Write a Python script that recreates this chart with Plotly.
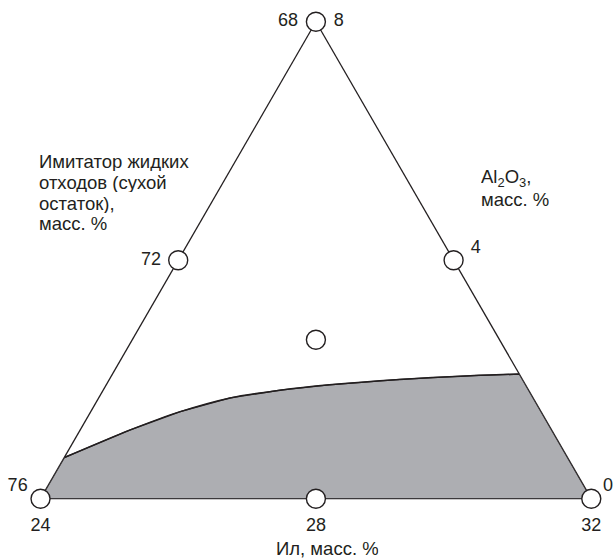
import plotly.graph_objects as go

FONT = "Liberation Sans, Arial, sans-serif"
INK = "#231f20"
GRAY = "#adaeb2"

# Marked compositions, mass %: top, left-mid, bottom-left, right-mid, bottom-mid, bottom-right, centre
pt_al2o3 = [8, 4, 0, 4, 0, 0, 2.667]
pt_waste = [68, 72, 76, 68, 72, 68, 70.667]
pt_silt = [24, 24, 24, 28, 28, 32, 26.667]

# Tick labels of the waste-simulant axis (left side)
waste_tick_al2o3 = [8, 4, 0]
waste_tick_waste = [68, 72, 76]
waste_tick_silt = [24, 24, 24]
waste_tick_text = ["68", "72", "76<br> "]

# Tick labels of the Al2O3 axis (right side)
al_tick_al2o3 = [8, 4, 0]
al_tick_waste = [68, 68, 68]
al_tick_silt = [24, 28, 32]
al_tick_text = ["8", "4<br> ", "0<br> "]

# Tick labels of the silt axis (bottom)
silt_tick_al2o3 = [0, 0, 0]
silt_tick_waste = [76, 72, 68]
silt_tick_silt = [24, 28, 32]
silt_tick_text = ["24", "28", "32"]

# Boundary curve of the shaded region (left edge -> right edge)
curve_al2o3 = [0.69, 1.15, 1.46, 1.69, 1.82, 1.91, 2.00, 2.06, 2.09]
curve_waste = [75.31, 74.13, 73.24, 72.40, 71.61, 70.85, 69.78, 68.78, 68.00]
curve_silt = [24.00, 24.72, 25.30, 25.91, 26.57, 27.24, 28.22, 29.16, 29.91]

# Region closed along the bottom edge (bottom-right, bottom-left corners)
region_al2o3 = curve_al2o3 + [0, 0, curve_al2o3[0]]
region_waste = curve_waste + [68, 76, curve_waste[0]]
region_silt = curve_silt + [32, 24, curve_silt[0]]

# Axis title lines
left_title_lines = ["Имитатор жидких", "отходов (сухой", "остаток),", "масс. %"]
right_title_lines = ["Al<sub>2</sub>O<sub>3</sub>,", "масс. %"]
bottom_title = "Ил, масс. %"

fig = go.Figure()

fig.add_trace(go.Scatterternary(
    a=region_al2o3, b=region_waste, c=region_silt,
    mode="lines", fill="toself", fillcolor=GRAY,
    line=dict(color=INK, width=1.3), hoverinfo="skip", showlegend=False))

fig.add_trace(go.Scatterternary(
    a=curve_al2o3, b=curve_waste, c=curve_silt,
    mode="lines", line=dict(color=INK, width=1.5, shape="spline", smoothing=0.8),
    hoverinfo="skip", showlegend=False))

fig.add_trace(go.Scatterternary(
    a=pt_al2o3, b=pt_waste, c=pt_silt, mode="markers", cliponaxis=False,
    marker=dict(size=19, color="white", line=dict(color=INK, width=1.4)),
    showlegend=False))

text_font = dict(family=FONT, size=18, color=INK)
for a, b, c, t, pos, gap in [
    (waste_tick_al2o3, waste_tick_waste, waste_tick_silt, waste_tick_text, "middle left", [27, 26, 19]),
    (al_tick_al2o3, al_tick_waste, al_tick_silt, al_tick_text, "middle right", [27, 26, 17]),
    (silt_tick_al2o3, silt_tick_waste, silt_tick_silt, silt_tick_text, "bottom center", [29, 29, 29]),
]:
    fig.add_trace(go.Scatterternary(
        a=a, b=b, c=c, text=t, mode="markers+text", textposition=pos,
        cliponaxis=False, textfont=text_font,
        marker=dict(size=gap, color="rgba(0,0,0,0)", line=dict(width=0)),
        hoverinfo="skip", showlegend=False))

axis_common = dict(showticklabels=False, ticks="", showgrid=False,
                   linecolor=INK, linewidth=1.3, layer="below traces",
                   title=dict(text=""))

title_font = dict(family=FONT, size=18.5, color=INK)
annotations = []
for i, line in enumerate(left_title_lines):
    annotations.append(dict(
        text=line, x=37 / 614, y=1 - (161.5 + 20.6 * i) / 559,
        xref="paper", yref="paper", xanchor="left", yanchor="middle",
        height=20, valign="middle", showarrow=False, font=title_font))
for i, line in enumerate(right_title_lines):
    annotations.append(dict(
        text=line, x=479 / 614, y=1 - (178 + 20.5 * i) / 559,
        xref="paper", yref="paper", xanchor="left", yanchor="middle",
        height=20, valign="middle", showarrow=False, font=title_font))
annotations.append(dict(
    text=bottom_title, x=327 / 614, y=1 - 548 / 559,
    xref="paper", yref="paper", xanchor="center", yanchor="middle",
    height=20, valign="middle", showarrow=False, font=title_font))

fig.update_layout(
    width=614, height=559,
    margin=dict(l=0, r=0, t=0, b=0),
    paper_bgcolor="white",
    font=dict(family=FONT, size=18, color=INK),
    ternary=dict(
        sum=100,
        bgcolor="white",
        domain=dict(x=[0.066, 0.963], y=[0.107, 0.962]),
        aaxis=dict(min=0, **axis_common),
        baxis=dict(min=68, **axis_common),
        caxis=dict(min=24, **axis_common),
    ),
    annotations=annotations,
)

fig.write_html("out.html",
               config={"displayModeBar": False},
               post_script="document.body.style.margin='0px';"
                           "document.body.style.padding='0px';")
